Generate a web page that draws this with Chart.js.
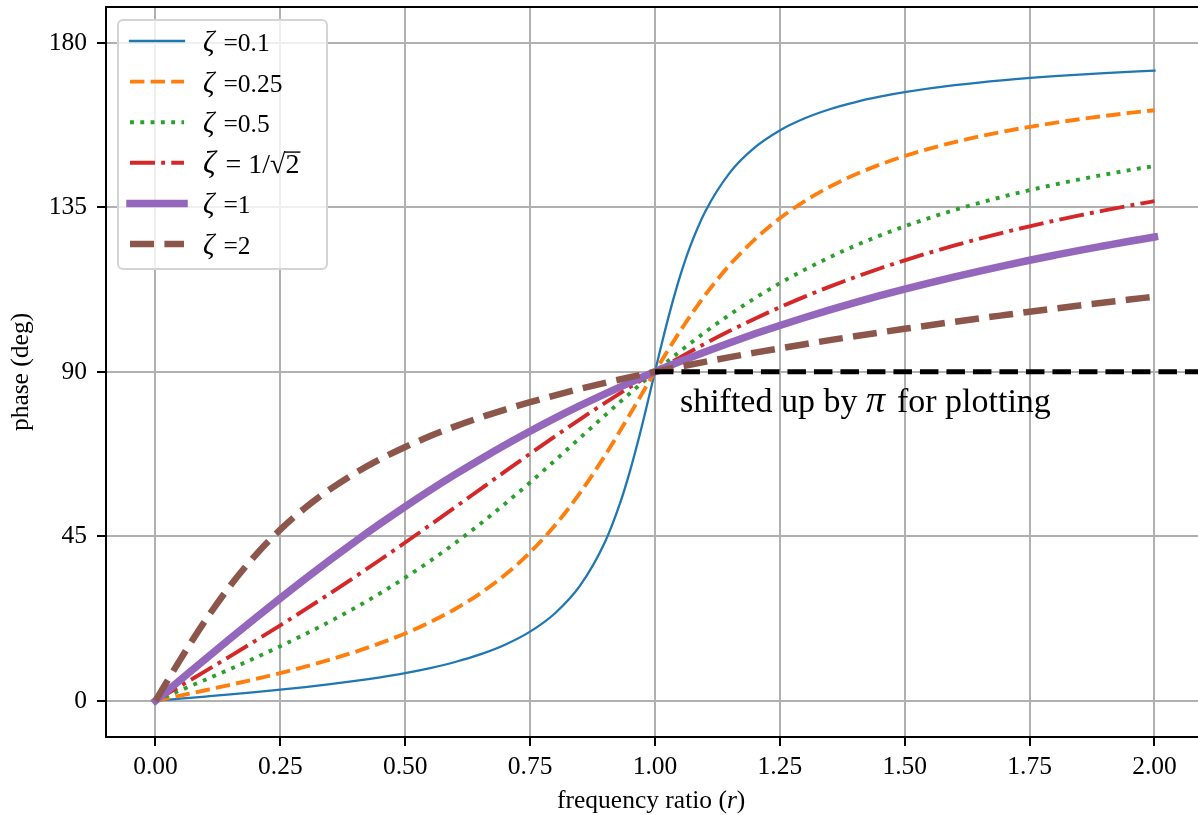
<!DOCTYPE html>
<html>
<head>
<meta charset="utf-8">
<script src="https://cdn.jsdelivr.net/npm/chart.js@4.4.1/dist/chart.umd.min.js"></script>
<style>
  html, body { margin: 0; padding: 0; background: #fff; overflow: hidden; }
</style>
</head>
<body>
<canvas id="phaseChart" width="1198" height="815"></canvas>
<script>
// frequency ratio samples
const ratio = [0, 0.05, 0.1, 0.15, 0.2, 0.25, 0.3, 0.35, 0.4, 0.45, 0.5, 0.55, 0.6, 0.65, 0.7, 0.75, 0.8, 0.85, 0.9, 0.95,
  1, 1.05, 1.1, 1.15, 1.2, 1.25, 1.3, 1.35, 1.4, 1.45, 1.5, 1.55, 1.6, 1.65, 1.7, 1.75, 1.8, 1.85, 1.9, 1.95, 2];
// the light damping curve is steep near r = 1, so it gets its own denser samples
const ratioFine = [0, 0.05, 0.1, 0.15, 0.2, 0.25, 0.3, 0.35, 0.4, 0.45, 0.5, 0.55, 0.6, 0.65, 0.7, 0.75, 0.8, 0.85, 0.9,
  0.93, 0.95, 0.97, 0.98, 0.99, 1, 1.01, 1.02, 1.03, 1.05, 1.07, 1.1, 1.15, 1.2, 1.25, 1.3, 1.35, 1.4, 1.45, 1.5,
  1.6, 1.7, 1.8, 1.9, 2];

// phase (deg) per damping ratio
const phase01 = [0, 0.57, 1.16, 1.76, 2.39, 3.05, 3.77, 4.56, 5.44, 6.44, 7.59, 8.96, 10.62, 12.69, 15.35, 18.92, 23.96, 31.49, 43.45,
  54.0, 62.84, 73.06, 78.58, 84.26, 90, 95.68, 101.2, 106.47, 116.02, 124.1, 133.67, 144.5, 151.39, 156.04, 159.35, 161.83,
  163.74, 165.26, 166.5, 168.41, 169.8, 170.87, 171.72, 172.41];
const phase025 = [0, 1.44, 2.89, 4.39, 5.95, 7.59, 9.36, 11.28, 13.39, 15.76, 18.43, 21.52, 25.11, 29.37, 34.46, 40.6, 48.01, 56.86, 67.11, 78.4,
  90, 101.05, 110.9, 119.29, 126.25, 131.99, 136.71, 140.62, 143.9, 146.67, 149.04, 151.07, 152.85, 154.41, 155.79, 157.01, 158.11, 159.1, 160, 160.82, 161.57];
const phase05 = [0, 2.87, 5.77, 8.72, 11.77, 14.93, 18.25, 21.75, 25.46, 29.43, 33.69, 38.26, 43.15, 48.38, 53.92, 59.74, 65.77, 71.92, 78.08, 84.14,
  90, 95.58, 100.81, 105.67, 110.14, 114.23, 117.96, 121.35, 124.44, 127.25, 129.81, 132.14, 134.27, 136.23, 138.03, 139.69, 141.22, 142.63, 143.94, 145.17, 146.31];
const phase071 = [0, 4.06, 8.13, 12.24, 16.42, 20.66, 25, 29.42, 33.96, 38.59, 43.31, 48.11, 52.97, 57.86, 62.75, 67.59, 72.35, 77, 81.51, 85.85,
  90, 93.95, 97.69, 101.22, 104.54, 107.65, 110.57, 113.3, 115.87, 118.27, 120.51, 122.61, 124.58, 126.43, 128.17, 129.81, 131.35, 132.8, 134.16, 135.46, 136.69];
const phase1 = [0, 5.72, 11.42, 17.06, 22.62, 28.07, 33.4, 38.58, 43.6, 48.46, 53.13, 57.62, 61.93, 66.04, 69.98, 73.74, 77.32, 80.72, 83.97, 87.06,
  90, 92.8, 95.45, 97.98, 100.39, 102.68, 104.86, 106.94, 108.92, 110.82, 112.62, 114.35, 115.99, 117.56, 119.06, 120.51, 121.89, 123.23, 124.48, 125.71, 126.87];
const phase2 = [0, 11.34, 22, 31.54, 39.81, 46.85, 52.83, 57.92, 62.3, 66.1, 69.44, 72.41, 75.07, 77.48, 79.68, 81.7, 83.58, 85.33, 86.98, 88.53,
  90, 91.4, 92.73, 94.01, 95.24, 96.42, 97.56, 98.66, 99.73, 100.76, 101.77, 102.75, 103.7, 104.63, 105.53, 106.42, 107.28, 108.13, 108.95, 109.76, 110.56];

// horizontal reference at 90 deg
const refX = [1, 2.1];
const refY = [90, 90];

const seriesLabels = ['ζ =0.1', 'ζ =0.25', 'ζ =0.5', 'ζ = 1/√2', 'ζ =1', 'ζ =2'];
const xTicks = [0, 0.25, 0.5, 0.75, 1, 1.25, 1.5, 1.75, 2];
const yTicks = [0, 45, 90, 135, 180];
const noteText = 'shifted up by π for plotting';
const xTitle = [{ t: 'frequency ratio (' }, { t: 'r', it: true }, { t: ')' }];

const SERIF = "'Liberation Serif', 'Times New Roman', serif";
const fnt = (size, italic) => (italic ? 'italic ' : '') + size + 'px ' + SERIF;
const pts = (xs, ys) => xs.map((x, i) => ({ x: x, y: ys[i] }));

// split a label into runs: greek letters italic (a bit larger, like math text), text after √ overlined
function runs(text) {
  const out = [];
  let over = false;
  for (const ch of text) {
    const it = /[ζπ]/.test(ch);
    const last = out[out.length - 1];
    if (last && last.it === it && last.over === over) last.t += ch;
    else out.push({ t: ch, it: it, over: over, greek: it });
    if (ch === '√') over = true;
  }
  return out;
}

function drawRich(ctx, parts, x, y, size, align) {
  let w = 0;
  parts.forEach(p => {
    p.size = p.greek ? size * 1.12 : size;
    p.gap = p.greek ? size * 0.1 : 0;
    ctx.font = fnt(p.size, p.it);
    p.w = ctx.measureText(p.t).width + p.gap;
    w += p.w;
  });
  let cx = align === 'center' ? x - w / 2 : x;
  ctx.textAlign = 'left';
  ctx.textBaseline = 'alphabetic';
  ctx.fillStyle = '#000';
  parts.forEach(p => {
    ctx.font = fnt(p.size, p.it);
    ctx.fillText(p.t, cx, y);
    if (p.over) {
      ctx.save();
      ctx.strokeStyle = '#000';
      ctx.lineWidth = 1.4;
      ctx.beginPath();
      ctx.moveTo(cx - 0.5, y - size * 0.74);
      ctx.lineTo(cx + p.w + 1, y - size * 0.74);
      ctx.stroke();
      ctx.restore();
    }
    cx += p.w;
  });
}

const decorations = {
  id: 'decorations',
  afterDraw(chart) {
    const ctx = chart.ctx;
    const a = chart.chartArea;
    const xs = chart.scales.x, ys = chart.scales.y;
    ctx.save();

    // top spine
    ctx.strokeStyle = '#000';
    ctx.lineWidth = 2;
    ctx.beginPath();
    ctx.moveTo(a.left - 1, a.top);
    ctx.lineTo(a.right, a.top);
    ctx.stroke();

    // annotation
    drawRich(ctx, runs(noteText), xs.getPixelForValue(1.05), ys.getPixelForValue(79), 34, 'left');

    // x axis title
    drawRich(ctx, xTitle, (a.left + xs.getPixelForValue(2.1)) / 2 - 4, 808, 25.5, 'center');

    // legend
    const bx = 118, by = 20, bw = 209, bh = 249;
    ctx.beginPath();
    ctx.roundRect(bx, by, bw, bh, 5);
    ctx.fillStyle = 'rgba(255,255,255,0.8)';
    ctx.fill();
    ctx.strokeStyle = '#d4d4d4';
    ctx.lineWidth = 2;
    ctx.stroke();

    chart.data.datasets.forEach((ds, i) => {
      if (!ds.inLegend) return;
      const ly = 41 + i * 40.6;
      ctx.save();
      ctx.strokeStyle = ds.borderColor;
      ctx.lineWidth = ds.borderWidth;
      ctx.setLineDash(ds.borderDash || []);
      ctx.lineCap = ds.borderCapStyle || 'butt';
      ctx.beginPath();
      ctx.moveTo(130, ly);
      ctx.lineTo(184, ly);
      ctx.stroke();
      ctx.restore();
      drawRich(ctx, runs(ds.label), 203, ly + 10, ds.label.includes('√') ? 28 : 25.5, 'left');
    });
    ctx.restore();
  }
};

const datasets = [
  { label: seriesLabels[0], data: pts(ratioFine, phase01), borderColor: '#1f77b4', borderWidth: 2.3, borderCapStyle: 'square', order: 6 },
  { label: seriesLabels[1], data: pts(ratio, phase025), borderColor: '#ff7f0e', borderWidth: 3.9, borderDash: [14.4, 6.2], order: 5 },
  { label: seriesLabels[2], data: pts(ratio, phase05), borderColor: '#2ca02c', borderWidth: 3.9, borderDash: [3.9, 6.4], order: 4 },
  { label: seriesLabels[3], data: pts(ratio, phase071), borderColor: '#d62728', borderWidth: 3.9, borderDash: [25, 6.2, 3.9, 6.2], order: 3 },
  { label: seriesLabels[4], data: pts(ratio, phase1), borderColor: '#9467bd', borderWidth: 7.5, borderCapStyle: 'square', order: 2 },
  { label: seriesLabels[5], data: pts(ratio, phase2), borderColor: '#8c564b', borderWidth: 6.5, borderDash: [24, 10.4], order: 1 },
  { label: 'reference', data: pts(refX, refY), borderColor: '#000', borderWidth: 5, borderDash: [18.5, 8], order: 0, inLegend: false }
].map(d => Object.assign({
  inLegend: true, fill: false, pointRadius: 0, pointHoverRadius: 0,
  cubicInterpolationMode: 'monotone', borderCapStyle: 'butt'
}, d));

const tickFont = { family: SERIF, size: 25.5 };

new Chart(document.getElementById('phaseChart').getContext('2d'), {
  type: 'line',
  data: { datasets: datasets },
  options: {
    responsive: false,
    animation: false,
    events: [],
    layout: { padding: { top: 7, right: 0, bottom: 0, left: 0 } },
    plugins: { legend: { display: false }, tooltip: { enabled: false } },
    scales: {
      x: {
        type: 'linear',
        min: -0.099,
        max: 2.0872,
        afterFit: s => { s.height = 78; s.paddingLeft = 0; s.paddingRight = 0; },
        afterBuildTicks: s => { s.ticks = xTicks.map(v => ({ value: v })); },
        ticks: {
          color: '#000', font: tickFont, padding: 6, autoSkip: false, maxRotation: 0,
          callback: v => Number(v).toFixed(2)
        },
        grid: { color: '#b0b0b0', lineWidth: 2, tickColor: '#000', tickWidth: 2, tickLength: 9 },
        border: { display: true, color: '#000', width: 2 }
      },
      y: {
        type: 'linear',
        min: -9.9,
        max: 189.8,
        afterFit: s => { s.width = 106; s.paddingTop = 0; s.paddingBottom = 0; },
        afterBuildTicks: s => { s.ticks = yTicks.map(v => ({ value: v })); },
        ticks: { color: '#000', font: tickFont, padding: 10, callback: v => String(v) },
        grid: { color: '#b0b0b0', lineWidth: 2, tickColor: '#000', tickWidth: 2, tickLength: 9 },
        border: { display: true, color: '#000', width: 2 },
        title: { display: true, text: 'phase (deg)', color: '#000', font: tickFont, padding: { top: 6, bottom: 0 } }
      }
    }
  },
  plugins: [decorations]
});
</script>
</body>
</html>
